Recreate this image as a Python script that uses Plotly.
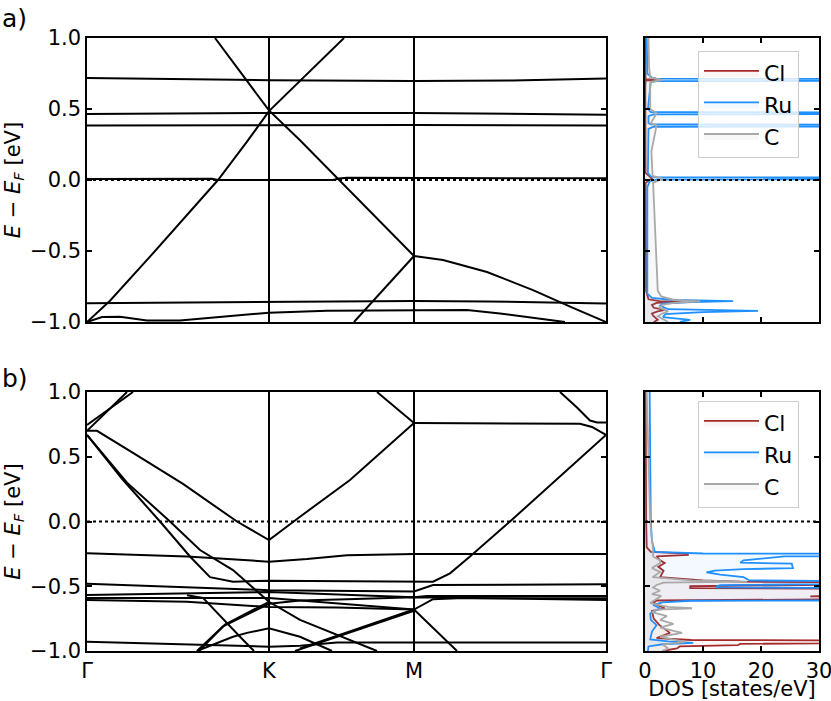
import plotly.graph_objects as go

# high-symmetry path positions (Γ, K, M, Γ)
K_TICKS = [0.0, 1.82, 3.27, 5.19]
K_LABELS = ["Γ", "K", "M", "Γ"]
E_TICKS = [-1.0, -0.5, 0.0, 0.5, 1.0]
E_LABELS = ["−1.0", "−0.5", "0.0", "0.5", "1.0"]
DOS_TICKS = [0, 10, 20, 30]

# ---- panel a) bands: (k, E) per band ----
BANDS_A = [
    ([0, 1.82, 3.27, 4.26, 5.19], [0.718, 0.703, 0.697, 0.70, 0.715]),
    ([0, 1.82, 3.27, 5.19], [0.465, 0.472, 0.472, 0.46]),
    ([0, 1.82, 3.27, 5.19], [0.384, 0.387, 0.387, 0.383]),
    ([0, 1.25, 1.31, 1.36, 2.46, 2.52, 2.6, 5.19], [0.007, 0.008, 0.0, 0.0, 0.0, 0.01, 0.015, 0.012]),
    ([0, 0.23, 0.63, 0.93, 1.31, 1.60, 1.82, 2.57], [-1.0, -0.85, -0.54, -0.30, 0.0, 0.27, 0.485, 1.0]),
    ([1.28, 1.82, 2.13, 2.52, 3.27], [1.0, 0.49, 0.28, 0.0, -0.535]),
    ([2.67, 3.27], [-1.0, -0.535]),
    ([3.27, 3.56, 4.0, 4.46, 4.86, 5.19], [-0.535, -0.563, -0.648, -0.775, -0.90, -1.0]),
    ([0, 1.82, 2.7, 2.9, 3.27, 4.0, 4.8, 5.19], [-0.868, -0.861, -0.857, -0.852, -0.852, -0.855, -0.865, -0.87]),
    ([0, 0.15, 0.33, 0.6, 0.93, 1.82, 2.4, 3.27, 3.8, 4.13, 4.53, 4.78],
     [-1.0, -0.965, -0.963, -0.99, -0.99, -0.934, -0.92, -0.915, -0.915, -0.94, -0.98, -1.0]),
]

# ---- panel b) bands ----
BANDS_B = [
    ([0, 0.40], [0.70, 1.0]),
    ([0, 0.46], [0.745, 1.0]),
    ([0, 0.1, 0.46, 0.96, 1.5, 1.82, 2.13, 2.63, 3.27], [0.70, 0.70, 0.53, 0.29, 0.0, -0.143, 0.037, 0.32, 0.76]),
    ([2.90, 3.27], [1.0, 0.76]),
    ([3.27, 4.5, 4.93, 5.05, 5.19], [0.76, 0.76, 0.755, 0.73, 0.668]),
    ([4.73, 4.9, 5.03, 5.1, 5.19], [1.0, 0.88, 0.78, 0.765, 0.765]),
    ([0, 0.35, 0.73, 1.03, 1.23, 1.46, 1.82, 3.27, 3.46, 3.63, 3.83, 4.23, 4.63, 4.93, 5.19],
     [0.668, 0.33, 0.0, -0.27, -0.43, -0.465, -0.457, -0.462, -0.465, -0.40, -0.27, 0.0, 0.28, 0.49, 0.668]),
    ([0, 0.40, 0.83, 1.13, 1.46, 1.82, 2.13, 2.9], [0.668, 0.30, 0.0, -0.22, -0.375, -0.62, -0.76, -1.0]),
    ([1.0, 1.16, 1.53, 1.67], [-0.57, -0.59, -0.89, -1.0]),
    ([1.10, 1.36, 1.82, 2.13, 2.6, 3.27, 5.19], [-1.0, -0.81, -0.635, -0.61, -0.6, -0.585, -0.606]),
    ([1.12, 1.38, 1.82], [-1.0, -0.795, -0.62]),
    ([1.10, 1.46, 1.6, 1.82, 2.13, 2.45], [-1.0, -0.89, -0.86, -0.825, -0.89, -1.0]),
    ([2.13, 3.27], [-0.98, -0.68]),
    ([2.08, 3.27], [-1.0, -0.69]),
    ([0, 1.82, 3.27, 3.46, 5.19], [-0.48, -0.53, -0.54, -0.49, -0.485]),
    ([0, 1.82, 3.27, 3.40, 3.6, 5.19], [-0.567, -0.545, -0.585, -0.575, -0.575, -0.575]),
    ([0, 1.82, 3.27, 3.46, 3.7, 5.19], [-0.59, -0.59, -0.68, -0.60, -0.593, -0.593]),
    ([0, 1.0, 1.82, 2.5, 3.27, 3.70], [-0.606, -0.62, -0.66, -0.665, -0.68, -1.0]),
    ([0, 1.2, 1.82, 2.13, 2.5, 3.27, 5.19], [-0.928, -0.953, -0.967, -0.96, -0.935, -0.935, -0.935]),
    ([0, 1.0, 1.82, 2.2, 2.6, 3.27, 5.19], [-0.245, -0.27, -0.31, -0.29, -0.26, -0.25, -0.25]),
]

# ---- panel a) DOS ----
E_CL_A = [1.0, 0.75, 0.71, 0.705, 0.70, 0.65, 0.05, 0.01, 0.0, -0.02, -0.78, -0.84, -0.853, -0.86,
          -0.866, -0.88, -0.90, -0.915, -0.925, -0.94, -0.955, -0.97, -0.985, -1.0]
DOS_CL_A = [0.05, 0.05, 0.1, 2.5, 0.1, 0.05, 0.1, 1.2, 0.8, 0.1, 0.2, 0.6, 2.5, 6.5,
            2.0, 1.2, 1.5, 3.5, 2.2, 1.2, 1.4, 1.8, 2.2, 1.5]
E_RU_A = [1.0, 0.75, 0.72, 0.714, 0.709, 0.701, 0.696, 0.69, 0.5, 0.478, 0.474, 0.466, 0.462, 0.45,
          0.40, 0.392, 0.388, 0.379, 0.375, 0.36, 0.05, 0.025, 0.019, 0.015, 0.007, 0.003, -0.01, -0.05,
          -0.80, -0.83, -0.845, -0.853, -0.86, -0.87, -0.885, -0.91, -0.922, -0.93, -0.945, -0.965, -0.985, -1.0]
DOS_RU_A = [0.3, 0.4, 1.2, 2.0, 80, 80, 2.0, 1.0, 0.5, 1.0, 80, 80, 1.5, 0.6,
            0.6, 1.0, 80, 80, 1.5, 0.6, 0.5, 1.0, 2.0, 80, 80, 2.0, 0.8, 0.4,
            0.4, 1.2, 5.0, 15.2, 8.0, 3.0, 2.6, 4.0, 19.5, 10.0, 3.5, 3.1, 7.8, 6.0]
E_C_A = [1.0, 0.8, 0.72, 0.705, 0.69, 0.5, 0.47, 0.4, 0.385, 0.2, 0.03, 0.01, -0.02, -0.3, -0.6,
         -0.78, -0.82, -0.845, -0.855, -0.865, -0.88, -0.9, -0.925, -0.94, -0.96, -0.98, -1.0]
DOS_C_A = [0.6, 0.7, 0.9, 3.0, 0.9, 0.9, 2.0, 1.0, 2.0, 1.1, 1.3, 3.0, 1.4, 1.7, 2.0,
           2.2, 2.8, 5.0, 9.5, 5.0, 3.0, 2.5, 4.0, 3.0, 2.2, 3.0, 4.0]

# ---- panel b) DOS ----
E_CL_B = [1.0, 0.5, 0.0, -0.2, -0.235, -0.248, -0.258, -0.27, -0.30, -0.32, -0.35, -0.38, -0.43, -0.455,
          -0.465, -0.475, -0.485, -0.495, -0.50, -0.515, -0.52, -0.57, -0.578, -0.585, -0.60, -0.61,
          -0.63, -0.67, -0.69, -0.75, -0.80, -0.86, -0.90, -0.915, -0.925, -0.935, -0.945, -0.955,
          -0.965, -0.98, -1.0]
DOS_CL_B = [0.1, 0.1, 0.2, 0.3, 1.0, 7.4, 7.4, 2.0, 2.6, 3.4, 2.3, 3.2, 2.6, 10.0,
            16.4, 60, 60, 20, 7.8, 7.8, 45, 40, 28.5, 40, 35, 2.0,
            1.4, 3.4, 1.2, 1.5, 2.5, 4.3, 2.0, 8.0, 80, 80, 16.4, 16.0,
            6.0, 5.5, 3.0]
E_RU_B = [1.0, 0.6, 0.2, 0.0, -0.15, -0.21, -0.235, -0.247, -0.252, -0.258, -0.27, -0.30, -0.318, -0.325,
          -0.36, -0.368, -0.38, -0.392, -0.41, -0.43, -0.455, -0.468, -0.476, -0.484, -0.492, -0.50,
          -0.508, -0.515, -0.53, -0.57, -0.598, -0.606, -0.612, -0.625, -0.645, -0.67, -0.71, -0.76,
          -0.80, -0.85, -0.91, -0.925, -0.938, -0.948, -0.965, -1.0]
DOS_RU_B = [0.8, 0.9, 0.9, 1.0, 1.2, 1.5, 1.7, 10, 80, 80, 24, 17, 16.4, 25.3,
            25.5, 17, 12, 10.6, 13, 17, 18, 60, 60, 30, 13, 12.4,
            12.4, 40, 45, 50, 80, 80, 8, 3.0, 1.4, 2.6, 0.9, 1.0,
            2.0, 1.2, 0.9, 4.0, 8.3, 3.0, 0.6, 0.5]
E_C_B = [1.0, 0.5, 0.0, -0.22, -0.27, -0.30, -0.32, -0.36, -0.39, -0.43, -0.455, -0.465, -0.472, -0.49,
         -0.51, -0.535, -0.56, -0.575, -0.59, -0.61, -0.63, -0.66, -0.67, -0.68, -0.70, -0.73, -0.76,
         -0.79, -0.82, -0.86, -0.89, -0.93, -0.95, -0.98, -1.0]
DOS_C_B = [0.3, 0.6, 0.9, 1.4, 1.4, 2.6, 2.6, 1.2, 2.6, 1.3, 8.0, 17.6, 3.2, 2.0,
           1.4, 2.6, 1.2, 2.8, 2.3, 1.5, 0.9, 4.0, 8.1, 2.0, 1.2, 3.8, 2.6,
           4.9, 2.6, 6.4, 2.6, 7.0, 3.0, 4.0, 3.0]

BLACK = "black"
CL_COLOR = "#a52a2a"
RU_COLOR = "#1e90ff"
C_COLOR = "#a9a9a9"
FONT = "DejaVu Sans"
W, H = 831, 701


def px_x(a, b):
    return [a / W, b / W]


def px_y(top, bottom):
    return [1 - bottom / H, 1 - top / H]


fig = go.Figure()

# band lines
for xa, ya, bands in [("x", "y", BANDS_A), ("x3", "y3", BANDS_B)]:
    for k, e in bands:
        fig.add_trace(go.Scatter(x=k, y=e, mode="lines", xaxis=xa, yaxis=ya,
                                 line=dict(color=BLACK, width=2), showlegend=False,
                                 hoverinfo="skip"))

# DOS curves
dos_sets = [
    ("x2", "y2", "legend", [(E_CL_A, DOS_CL_A), (E_RU_A, DOS_RU_A), (E_C_A, DOS_C_A)]),
    ("x4", "y4", "legend2", [(E_CL_B, DOS_CL_B), (E_RU_B, DOS_RU_B), (E_C_B, DOS_C_B)]),
]
names = ["Cl", "Ru", "C"]
colors = [CL_COLOR, RU_COLOR, C_COLOR]
fills = ["rgba(165,42,42,0.05)", "rgba(30,144,255,0.05)", "rgba(169,169,169,0.08)"]
for xa, ya, leg, curves in dos_sets:
    for (e, d), name, col, fc in zip(curves, names, colors, fills):
        fig.add_trace(go.Scatter(x=d, y=e, mode="lines", name=name, xaxis=xa, yaxis=ya,
                                 line=dict(color=col, width=1.8), fill="tozerox", fillcolor=fc,
                                 legend=leg, legendgroup=name + leg))

# dotted Fermi level
for xa, ya in [("x", "y"), ("x2", "y2"), ("x3", "y3"), ("x4", "y4")]:
    fig.add_shape(type="line", xref=xa + " domain", yref=ya, x0=0, x1=1, y0=0, y1=0,
                  line=dict(color=BLACK, width=2, dash="dot"))

tick_font = dict(family=FONT, size=21, color=BLACK)
common = dict(ticks="inside", ticklen=5, tickwidth=1.5, tickcolor=BLACK, showline=True,
              linecolor=BLACK, linewidth=1.5, mirror="allticks", zeroline=False,
              tickfont=tick_font, automargin=False, ticklabeloverflow="allow")
ytitle = dict(text="<i>E</i> − <i>E</i><sub><i>F</i></sub> [eV]", font=tick_font, standoff=4)

band_x = dict(common, range=[0, K_TICKS[-1]], tickvals=K_TICKS, ticktext=K_LABELS,
              showgrid=True, gridcolor=BLACK, gridwidth=1.5)
band_y = dict(common, range=[-1, 1], tickvals=E_TICKS, ticktext=E_LABELS, showgrid=False,
              title=ytitle)
dos_x = dict(common, range=[0, 30], tickvals=DOS_TICKS, showgrid=False)
dos_y = dict(common, range=[-1, 1], tickvals=E_TICKS, showticklabels=False, showgrid=False)

legend_style = dict(bgcolor="rgba(255,255,255,0.8)", bordercolor="#cccccc", borderwidth=1,
                    font=dict(family=FONT, size=22, color=BLACK), xanchor="left", yanchor="top",
                    tracegroupgap=0, itemwidth=55)

fig.update_layout(
    width=W, height=H,
    margin=dict(l=0, r=0, t=0, b=0),
    paper_bgcolor="white", plot_bgcolor="white",
    font=dict(family=FONT, size=21, color=BLACK),
    xaxis=dict(band_x, domain=px_x(87, 606), anchor="y", showticklabels=False),
    yaxis=dict(band_y, domain=px_y(38, 322), anchor="x"),
    xaxis2=dict(dos_x, domain=px_x(645, 819), anchor="y2", showticklabels=False),
    yaxis2=dict(dos_y, domain=px_y(38, 322), anchor="x2"),
    xaxis3=dict(band_x, domain=px_x(87, 606), anchor="y3", showticklabels=True),
    yaxis3=dict(band_y, domain=px_y(392, 651), anchor="x3"),
    xaxis4=dict(dos_x, domain=px_x(645, 819), anchor="y4", showticklabels=True,
                title=dict(text="DOS [states/eV]", font=tick_font, standoff=5)),
    yaxis4=dict(dos_y, domain=px_y(392, 651), anchor="x4"),
    legend=dict(legend_style, x=698 / W, y=1 - 51 / H),
    legend2=dict(legend_style, x=698 / W, y=1 - 401 / H),
    annotations=[
        dict(text="a)", x=0, y=1 - 2 / H, xref="paper", yref="paper", showarrow=False,
             xanchor="left", yanchor="top", font=dict(family=FONT, size=25, color=BLACK)),
        dict(text="b)", x=0, y=1 - 362 / H, xref="paper", yref="paper", showarrow=False,
             xanchor="left", yanchor="top", font=dict(family=FONT, size=25, color=BLACK)),
    ],
)

# the page body has a default 8px margin; drop it so the figure sits at the window corner
fig.write_html("out.html", config={"displayModeBar": False},
               post_script="document.body.style.margin = '0';")
